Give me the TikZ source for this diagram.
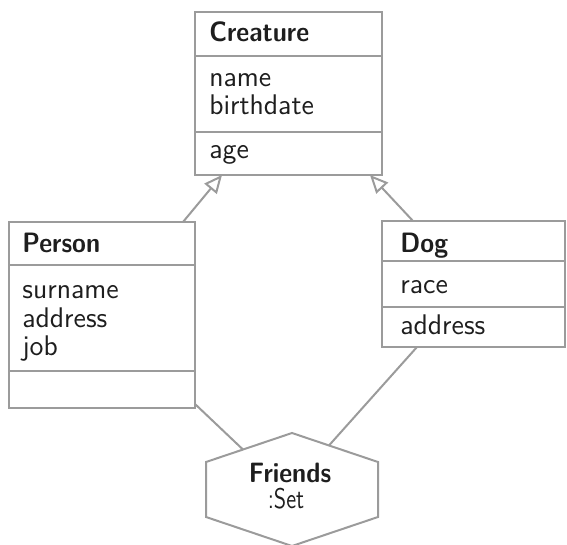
\documentclass[tikz,border=0pt]{standalone}
\usetikzlibrary{arrows.meta,calc}
\definecolor{linegray}{RGB}{155,155,155}
\definecolor{ink}{RGB}{30,30,30}
\newcommand{\classtitle}[1]{\scalebox{0.9}[1]{#1}}
\begin{document}
\begin{tikzpicture}[x=0.5pt,y=-0.5pt,
  cell/.style={draw=linegray, line width=1pt, fill=white, inner sep=0pt, outer sep=0pt, anchor=north west},
  txt/.style={anchor=base west, inner sep=0pt, text=ink, font=\sffamily\fontsize{14.2}{15}\selectfont},
  ttl/.style={txt, font=\sffamily\bfseries\fontsize{14}{15}\selectfont},
  inh/.style={draw=linegray, line width=1pt, -{Triangle[open, length=9pt, width=8pt]}},
  assoc/.style={draw=linegray, line width=1pt}]
\useasboundingbox (0,0) rectangle (567,545);

% Creature
\node[cell, minimum width=93.5pt, minimum height=22pt] (ct) at (195,12) {};
\node[cell, minimum width=93.5pt, minimum height=38pt] (ca) at (ct.south west) {};
\node[cell, minimum width=93.5pt, minimum height=21.5pt] (cm) at (ca.south west) {};
\node[ttl] (ctt) at (209,42) {\classtitle{Creature}};
\node[txt] (ca1) at (209,87) {name};
\node[txt] (ca2) at (209,115) {birthdate};
\node[txt] (cm1) at (209,159) {age};

% Person
\node[cell, minimum width=93pt, minimum height=21.5pt] (pt) at (9,222) {};
\node[cell, minimum width=93pt, minimum height=53pt] (pa) at (pt.south west) {};
\node[cell, minimum width=93pt, minimum height=18.5pt] (pm) at (pa.south west) {};
\node[ttl] (ptt) at (22,253) {\classtitle{Person}};
\node[txt] (pa1) at (22,298) {surname};
\node[txt] (pa2) at (22,327) {address};
\node[txt] (pa3) at (22,355) {job};

% Dog
\node[cell, minimum width=91.5pt, minimum height=20pt] (dt) at (382,221) {};
\node[cell, minimum width=91.5pt, minimum height=23pt] (da) at (dt.south west) {};
\node[cell, minimum width=91.5pt, minimum height=20pt] (dm) at (da.south west) {};
\node[ttl] (dtt) at (400,253) {\classtitle{Dog}};
\node[txt] (da1) at (400,293) {race};
\node[txt] (dm1) at (400,334) {address};

% Friends set
\coordinate (h1) at (292,433);
\coordinate (h2) at (378,462);
\coordinate (h3) at (378,517);
\coordinate (h4) at (292,546);
\coordinate (h5) at (206,517);
\coordinate (h6) at (206,462);
\draw[linegray, line width=1pt, line join=miter] (h1) -- (h2) -- (h3) -- (h4) -- (h5) -- (h6) -- cycle;
\coordinate (hl) at ($(h6)!0.43!(h1)$);
\coordinate (hr) at ($(h1)!0.43!(h2)$);
\node[ttl, anchor=base] (fr) at (290,482) {\classtitle{Friends}};
\node[txt, anchor=base] (fs) at (286,508) {\scalebox{0.8}[1]{:Set}};

% generalisations
\draw[inh] ([xshift=-6pt]pt.north east) -- ([xshift=13.5pt]cm.south west);
\draw[inh] ([xshift=15.5pt]dt.north west) -- ([xshift=-6pt]cm.south east);

% associations
\draw[assoc] ([yshift=2pt]pm.south east) -- (hl);
\draw[assoc] ([xshift=17.5pt]dm.south west) -- (hr);
\end{tikzpicture}
\end{document}
